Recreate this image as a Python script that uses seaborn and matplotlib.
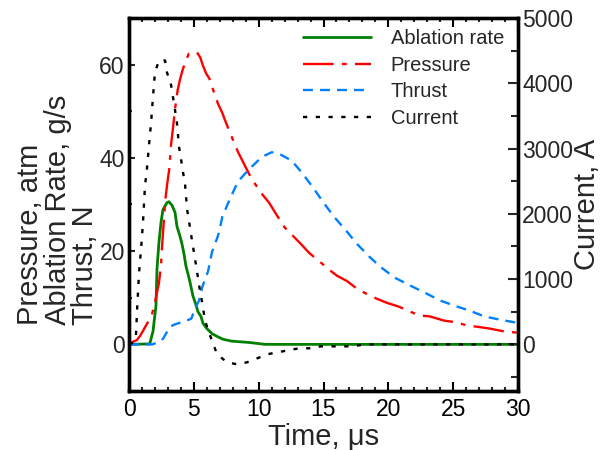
import matplotlib
matplotlib.use("Agg")
import matplotlib.pyplot as plt
from matplotlib.ticker import MultipleLocator
import seaborn as sns
import pandas as pd

# ---- data ----
abl_t = [0, 1.6, 1.85, 2.08, 2.16, 2.31, 2.47, 2.62, 2.93, 3.08, 3.32, 3.55, 3.7, 3.93, 4.09,
         4.24, 4.39, 4.55, 4.7, 4.93, 5.09, 5.32, 5.55, 5.71, 6.0, 6.4, 6.8, 7.25, 7.9, 9.3, 10.5, 30]
abl_v = [0, 0.1, 2.8, 8.3, 16.2, 21.9, 26.2, 28.9, 30.4, 30.6, 29.8, 28.3, 25.3, 23.2, 21.5,
         19.4, 16.8, 15.1, 13.4, 10.4, 9.1, 7.0, 6.0, 4.5, 3.4, 2.3, 1.7, 1.1, 0.7, 0.4, 0, 0]

pres_t = [0, 0.25, 0.6, 0.85, 1.1, 1.3, 1.75, 2.0, 2.3, 2.47, 2.55, 2.65, 2.8, 2.95, 3.1, 3.25,
          3.4, 3.55, 3.75, 3.95, 4.15, 4.35, 4.6, 5.0, 5.3, 5.5, 5.7, 5.95, 6.2, 6.5, 6.85, 7.2,
          7.4, 7.95, 8.4, 8.8, 9.25, 9.7, 10.3, 10.8, 11.4, 12.0, 12.6, 13.2, 13.9, 14.65, 15.35,
          16.05, 16.8, 17.6, 18.35, 19.1, 19.9, 20.8, 21.7, 22.4, 23.2, 24.3, 25.3, 26.1, 26.8,
          27.8, 28.9, 30]
pres_v = [0, 0.5, 0.9, 1.8, 3.0, 4.0, 6.2, 9.0, 13.0, 17.0, 21.0, 25.0, 31.0, 34.5, 37.5, 43.0,
          46.6, 50.5, 54.5, 57.0, 59.0, 60.5, 62.3, 62.8, 62.4, 61.5, 59.8, 58.1, 57.0, 54.5, 51.7,
          49.6, 48.1, 44.3, 41.3, 39.1, 36.6, 34.5, 32.1, 30.4, 27.7, 25.1, 23.4, 21.7, 19.6, 17.9,
          16.2, 14.7, 13.6, 11.9, 10.8, 9.8, 8.9, 8.1, 7.0, 6.2, 6.0, 5.1, 4.7, 4.0, 3.8, 3.4, 2.8, 2.5]

thr_t = [0, 1.0, 1.8, 2.4, 2.65, 3.15, 3.55, 4.45, 4.8, 5.1, 5.4, 5.65, 6.1, 6.4, 6.85, 7.0, 7.2,
         7.8, 8.4, 9.2, 10.25, 11.0, 11.5, 12.55, 13.4, 14.2, 14.95, 15.8, 16.65, 17.6, 18.5,
         19.4, 20.5, 21.7, 22.8, 24.0, 25.1, 26.3, 27.4, 28.6, 30]
thr_v = [0, 0, 0, 0.6, 1.3, 3.8, 4.3, 5.1, 5.5, 7.7, 9.4, 12.3, 15.7, 19.8, 23.2, 24.7, 27.4,
         31.3, 34.9, 37.4, 40.2, 41.2, 41.0, 39.4, 36.6, 33.6, 30.6, 27.4, 24.7, 21.5, 18.9,
         16.6, 14.3, 12.6, 11.1, 9.4, 8.3, 7.2, 6.0, 5.3, 4.6]

cur_t = [0, 0.35, 0.54, 0.62, 0.77, 0.93, 1.08, 1.23, 1.39, 1.54, 1.70, 1.85, 2.0, 2.31, 2.78,
         2.93, 3.24, 3.39, 3.55, 3.70, 3.78, 3.86, 4.01, 4.16, 4.32, 4.40, 4.47, 4.63, 4.78, 4.93,
         5.09, 5.24, 5.40, 5.55, 5.71, 5.86, 6.17, 6.48, 6.79, 7.56, 8.33, 9.1, 9.87, 10.7, 11.5,
         12.3, 13.1, 14.0, 14.8, 15.7, 17.3, 18.1, 30]
cur_v = [0, 30, 140, 520, 1080, 1460, 1870, 2420, 2700, 3050, 3390, 3790, 4165, 4350, 4350,
         4165, 3980, 3790, 3590, 3390, 3207, 3025, 2840, 2645, 2460, 2265, 2080, 1885, 1690, 1505,
         1310, 1125, 910, 745, 560, 365, 180, 15, -150, -275, -305, -275, -215, -150, -120,
         -90, -60, -60, -30, -30, -30, 0, 0]

x_ticks = [0, 5, 10, 15, 20, 25, 30]
left_ticks = [0, 20, 40, 60]
right_ticks = [0, 1000, 2000, 3000, 4000, 5000]

# ---- style ----
sns.set_style("ticks")
plt.rcParams['font.family'] = ['Liberation Sans', 'DejaVu Sans']

W, H = 607, 450
fig = plt.figure(figsize=(W / 100, H / 100), dpi=100)
ax = fig.add_axes([129 / W, 1 - 391 / H, (518 - 129) / W, (391 - 18) / H])
ax2 = ax.twinx()

lw = 1.7
sns.lineplot(x=abl_t, y=abl_v, ax=ax, color="#008000", lw=2.0, label="Ablation rate", legend=False)
sns.lineplot(x=pres_t, y=pres_v, ax=ax, color="#ff0000", lw=lw, label="Pressure", legend=False,
             linestyle=(0, (13, 3.5, 2, 3.5)))
sns.lineplot(x=thr_t, y=thr_v, ax=ax, color="#0080ff", lw=lw, label="Thrust", legend=False,
             linestyle=(0, (4.2, 3.0)))
sns.lineplot(x=cur_t, y=cur_v, ax=ax2, color="black", lw=lw, label="Current", legend=False,
             linestyle=(0, (1.8, 3.6)))

ax.set_xlim(0, 30)
ax.set_ylim(-10, 70)
ax2.set_ylim(-5000 / 7, 5000)
ax.set_xticks(x_ticks)
ax.set_yticks(left_ticks)
ax2.set_yticks(right_ticks)
ax.xaxis.set_minor_locator(MultipleLocator(1))
ax.yaxis.set_minor_locator(MultipleLocator(10))
ax2.yaxis.set_minor_locator(MultipleLocator(500))
ax.set_xlabel("")
ax.set_ylabel("")
ax2.set_ylabel("")

for a in (ax, ax2):
    for s in a.spines.values():
        s.set_linewidth(2.4)
        s.set_color("black")

TS = 16.5
ax.tick_params(axis='x', which='major', direction='in', length=6.5, width=1.5, top=True,
               pad=5, labelsize=TS, colors='black')
ax.tick_params(axis='x', which='minor', direction='in', length=3, width=1.5, top=True)
ax.tick_params(axis='y', which='major', direction='in', length=4.5, width=1.5, right=False,
               pad=3, labelsize=TS)
ax.tick_params(axis='y', which='minor', direction='in', length=2, width=1.5, right=False)
ax2.tick_params(axis='y', which='major', direction='in', length=7, width=1.5, pad=3, labelsize=TS)
ax2.tick_params(axis='y', which='minor', direction='in', length=5, width=1.5)

# axis titles
lab_y = 1 - 325 / H
for xb, txt in [(38, "Pressure, atm"), (66, "Ablation Rate, g/s"), (93, "Thrust, N")]:
    fig.text(xb / W, lab_y, txt, rotation=90, rotation_mode='anchor', ha='left',
             va='baseline', fontsize=21)
fig.text(323.5 / W, 1 - 445 / H, "Time, \u03bcs", ha='center', va='baseline', fontsize=21)
fig.text(587 / W, 1 - 204 / H, "Current, A", rotation=90, ha='center', va='center', fontsize=21)

# legend
h1, l1 = ax.get_legend_handles_labels()
h2, l2 = ax2.get_legend_handles_labels()
leg = ax2.legend(h1 + h2, l1 + l2, loc='upper left', bbox_to_anchor=(303 / W, 1 - 29 / H),
                 bbox_transform=fig.transFigure, frameon=False, borderpad=0, borderaxespad=0,
                 handlelength=3.4, handletextpad=0.95, labelspacing=0.38,
                 prop={'size': 14.5})

fig.savefig("out.png", dpi=100)
